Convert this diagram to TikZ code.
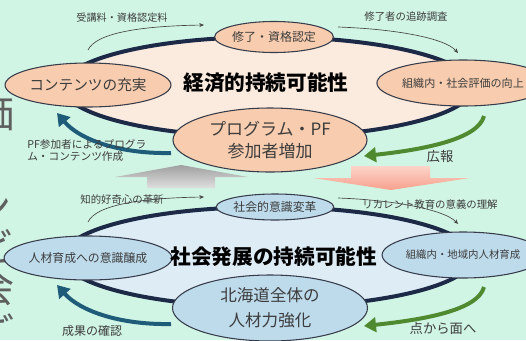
\documentclass[tikz,border=0pt]{standalone}
\usepackage{fontspec}
\setmainfont{Noto Sans CJK JP}
\usetikzlibrary{arrows.meta,shapes.geometric}
\definecolor{bg}{RGB}{209,245,228}
\definecolor{navy}{RGB}{28,42,72}
\definecolor{peachL}{RGB}{251,234,222}
\definecolor{peach}{RGB}{248,205,175}
\definecolor{blueL}{RGB}{222,236,246}
\definecolor{blueS}{RGB}{190,219,236}
\definecolor{txt}{RGB}{60,60,60}
\definecolor{edge}{RGB}{55,60,75}
\definecolor{grn}{RGB}{80,138,48}
\definecolor{teal}{RGB}{30,92,122}
\definecolor{thin}{RGB}{70,70,70}
\definecolor{side}{RGB}{95,95,95}
\tikzset{
  big/.style={ellipse,draw=navy,line width=3pt,inner sep=0pt,minimum width=307.5pt,minimum height=75pt},
  small/.style={ellipse,draw=edge,line width=0.8pt,inner sep=0pt,text=txt,align=center},
  lbl/.style={text=txt,inner sep=0pt,align=center},
  thick arrow/.style={line width=3pt,-{Triangle[length=9pt,width=11pt]}},
  thin arrow/.style={line width=0.5pt,draw=thin,-{Stealth[length=3.5pt,width=3pt]}},
  ttl/.style={font=\fontsize{15.5pt}{18pt}\selectfont\bfseries,text=black,inner sep=0pt},
  sidech/.style={font=\fontsize{30pt}{30pt}\selectfont,text=side,inner sep=0pt}
}
\begin{document}
\begin{tikzpicture}[x=0.75pt,y=-0.75pt]
\useasboundingbox (0,0) rectangle (526,340);
\fill[bg] (0,0) rectangle (526,340);
\begin{scope}
\clip (0,0) rectangle (526,340);
\node[sidech] (s1) at (-6,113) {価};
\node[sidech] (s2) at (-8,207) {ン};
\node[sidech] (s3) at (-6,246) {ビ};
\node[sidech] (s4) at (-6,287) {会};
\node[sidech] (s5) at (-6,331) {ご};
\end{scope}
% big ellipses
\node[big,fill=peachL] (bigtop) at (268,87) {};
\node[big,fill=blueL] (bigbot) at (268,257) {};
% block arrows
\shade[top color=gray!75,bottom color=gray!25,draw=none]
  (147,188) -- (147,177) -- (115,177) -- (181,165) -- (248,177) -- (215,177) -- (215,188) -- cycle;
\shade[top color={rgb,255:red,252;green,212;blue,202},bottom color={rgb,255:red,247;green,160;blue,140},draw=none]
  (351,166) -- (351,178) -- (313,178) -- (391,190) -- (470,178) -- (430,178) -- (430,166) -- cycle;
% top cycle nodes
\node[small,fill=peach,minimum width=101.25pt,minimum height=33pt,font=\fontsize{11pt}{13pt}\selectfont] (cont) at (88,85) {コンテンツの充実};
\node[small,fill=peach,minimum width=78pt,minimum height=23.25pt,font=\fontsize{9pt}{11pt}\selectfont] (shu) at (274,37) {修了・資格認定};
\node[small,fill=peach,minimum width=96pt,minimum height=34.5pt,font=\fontsize{8.3pt}{10pt}\selectfont] (org1) at (463,83) {組織内・社会評価の向上};
\node[small,fill=peach,minimum width=145.5pt,minimum height=48pt,font=\fontsize{12.75pt}{16.5pt}\selectfont] (prog) at (270,140) {プログラム・PF\\参加者増加};
\node[ttl] (t1) at (266,83) {経済的持続可能性};
% bottom cycle nodes
\node[small,fill=blueS,minimum width=99.75pt,minimum height=33pt,font=\fontsize{8.9pt}{11pt}\selectfont] (jin) at (88,258) {人材育成への意識醸成};
\node[small,fill=blueS,minimum width=76.5pt,minimum height=19.5pt,font=\fontsize{8.9pt}{11pt}\selectfont] (sha) at (275,207) {社会的意識変革};
\node[small,fill=blueS,minimum width=96pt,minimum height=34.5pt,font=\fontsize{7.8pt}{10pt}\selectfont] (org2) at (463,255) {組織内・地域内人材育成};
\node[small,fill=blueS,minimum width=146.25pt,minimum height=49.5pt,font=\fontsize{12.4pt}{18.75pt}\selectfont] (hok) at (270,308) {北海道全体の\\人材力強化};
\node[ttl] (t2) at (274,257) {社会発展の持続可能性};
% coordinates for arrows
\coordinate (a1s) at (88,50);  \coordinate (a1e) at (204,25);
\coordinate (a2s) at (338,27); \coordinate (a2e) at (458,53);
\coordinate (a3s) at (88,222); \coordinate (a3e) at (204,197);
\coordinate (a4s) at (338,198);\coordinate (a4e) at (458,224);
\coordinate (g1s) at (484,116); \coordinate (g1e) at (364,156);
\coordinate (g2s) at (484,287); \coordinate (g2e) at (364,326);
\coordinate (b1s) at (171,153); \coordinate (b1e) at (57,113);
\coordinate (b2s) at (171,324); \coordinate (b2e) at (57,285);
% thin arrows
\draw[thin arrow] (a1s) .. controls (96,33) and (140,26) .. (a1e);
\draw[thin arrow] (a2s) .. controls (395,29) and (445,38) .. (a2e);
\draw[thin arrow] (a3s) .. controls (96,205) and (140,198) .. (a3e);
\draw[thin arrow] (a4s) .. controls (395,200) and (445,210) .. (a4e);
% thick arrows
\draw[thick arrow,draw=grn] (g1s) .. controls (478,140) and (420,150) .. (g1e);
\draw[thick arrow,draw=grn] (g2s) .. controls (478,311) and (420,320) .. (g2e);
\draw[thick arrow,draw=teal] (b1s) .. controls (120,154) and (80,140) .. (b1e);
\draw[thick arrow,draw=teal] (b2s) .. controls (120,325) and (80,311) .. (b2e);
% labels
\node[lbl,font=\fontsize{7.6pt}{9pt}\selectfont] (l1) at (122,18) {受講料・資格認定料};
\node[lbl,font=\fontsize{7.8pt}{9pt}\selectfont] (l2) at (406,17) {修了者の追跡調査};
\node[lbl,align=left,anchor=north west,font=\fontsize{8pt}{9pt}\selectfont] (l3) at (27,139) {PF参加者によるプログラ\\ム・コンテンツ作成};
\node[lbl,font=\fontsize{10pt}{12pt}\selectfont] (l4) at (440,156) {広報};
\node[lbl,font=\fontsize{7.8pt}{9pt}\selectfont] (l5) at (122,200) {知的好奇心の革新};
\node[lbl,font=\fontsize{7.8pt}{9pt}\selectfont] (l6) at (430,205) {リカレント教育の意義の理解};
\node[lbl,font=\fontsize{9pt}{11pt}\selectfont] (l7) at (92,331) {成果の確認};
\node[lbl,font=\fontsize{10pt}{12pt}\selectfont] (l8) at (443,328) {点から面へ};
\end{tikzpicture}
\end{document}
